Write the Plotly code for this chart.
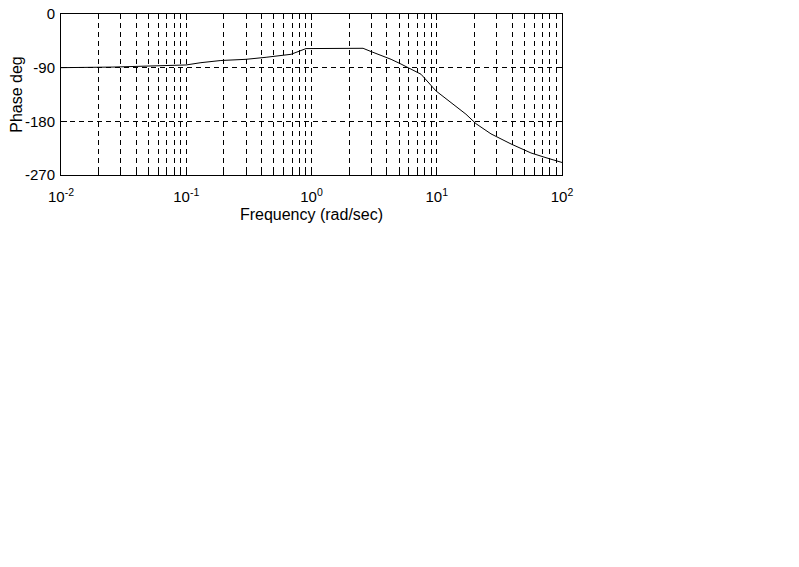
import plotly.graph_objects as go

# Bode phase curve
freq = [0.01, 0.026, 0.0995, 0.131, 0.189, 0.30, 0.434, 0.686, 0.904, 2.58,
        2.99, 3.59, 4.32, 5.19, 6.23, 7.49, 9.86, 13.0, 17.1, 20.6,
        27.1, 39.2, 56.5, 74.5, 100.0]
phase = [-90, -89, -85.5, -81.6, -78, -76, -72.6, -67.6, -58, -57.5,
         -63, -69, -76, -84, -93, -101, -129, -149, -168, -184,
         -201, -218, -233, -241, -249]

x_major = [0.01, 0.1, 1, 10, 100]
x_major_text = ["10<sup>-2</sup>", "10<sup>-1</sup>", "10<sup>0</sup>",
                "10<sup>1</sup>", "10<sup>2</sup>"]
x_minor = [m * d for d in [0.01, 0.1, 1, 10] for m in range(2, 10)]
y_ticks = [0, -90, -180, -270]
y_ticks_text = ["0", "-90", "-180", "-270"]

fig = go.Figure()
fig.add_trace(go.Scatter(x=freq, y=phase, mode="lines",
                         line=dict(color="black", width=1), showlegend=False))

# page body adds ~7px, so margins are shifted to land the axes where the original has them
fig.update_layout(
    width=799, height=567,
    paper_bgcolor="white", plot_bgcolor="white",
    margin=dict(l=53, r=245, t=6, b=400),
    font=dict(family="Liberation Sans, Arial, sans-serif", size=15, color="black"),
)
fig.update_xaxes(
    type="log", range=[-2, 2], automargin=False,
    tickmode="array", tickvals=x_major, ticktext=x_major_text,
    ticks="inside", ticklen=6, tickcolor="black",
    showline=True, linecolor="black", linewidth=1, mirror="ticks",
    showgrid=True, gridcolor="black", gridwidth=1, griddash="5px,4px",
    zeroline=False, ticklabelstandoff=8, ticklabeloverflow="allow",
    minor=dict(tickmode="array", tickvals=x_minor, ticks="inside", ticklen=3,
               tickcolor="black", showgrid=True, gridcolor="black",
               gridwidth=1, griddash="5px,4px"),
    title=dict(text="Frequency (rad/sec)", font=dict(size=16), standoff=4),
    tickfont=dict(size=15),
)
fig.update_yaxes(
    range=[-270, 0], tickmode="array", tickvals=y_ticks, ticktext=y_ticks_text,
    automargin=False,
    ticks="inside", ticklen=6, tickcolor="black",
    showline=True, linecolor="black", linewidth=1, mirror="ticks",
    showgrid=True, gridcolor="black", gridwidth=1, griddash="5px,4px",
    zeroline=False, ticklabelstandoff=2, ticklabeloverflow="allow",
    title=dict(text="Phase deg", font=dict(size=16), standoff=6),
    tickfont=dict(size=15),
)

fig.write_html("out.html")
